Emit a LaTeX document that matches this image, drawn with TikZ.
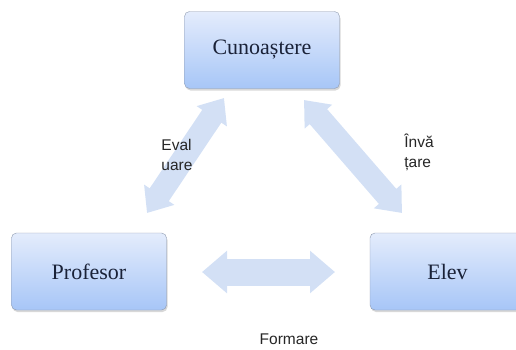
\documentclass[tikz,border=0pt]{standalone}
\usepackage{fontspec}
\setmainfont{Liberation Serif}
\newfontfamily\labfont{Liberation Sans}
\usepackage{xcolor}
\usetikzlibrary{arrows.meta,shadows}
\definecolor{boxtop}{HTML}{E4ECFC}
\definecolor{boxbot}{HTML}{A7C6F7}
\definecolor{boxline}{HTML}{8D99AE}
\definecolor{boxtext}{HTML}{1A2238}
\definecolor{arrcol}{HTML}{D3E0F5}

\begin{document}
\begin{tikzpicture}[x=1bp,y=-1bp,
  block/.style={rectangle,draw=boxline,top color=boxtop,bottom color=boxbot,
                minimum height=77bp,minimum width=155bp,rounded corners=5pt,
                drop shadow={shadow xshift=1bp,shadow yshift=-2bp,fill=black!30},
                text=boxtext,font=\fontsize{22bp}{25bp}\selectfont},
  dbl/.style={line width=23bp,arrcol,{Triangle[length=22bp,width=35bp]}-{Triangle[length=22bp,width=35bp]}},
  lab/.style={font=\labfont\fontsize{15.5bp}{20bp}\selectfont,align=left,text=black!85}]
\useasboundingbox (0,0) rectangle (516,349);
\clip (0,0) rectangle (516,349);
\node[block] (cun) at (262,50) {Cunoaștere};
\node[block] (prof) at (89,271.5) {Profesor};
\node[block] (elev) at (447.5,271.5) {Elev};
% arrow ends
\coordinate (ev1) at (147,213);
\coordinate (ev2) at (224,98);
\coordinate (in1) at (304,100);
\coordinate (in2) at (402,213);
\coordinate (fo1) at (202,272);
\coordinate (fo2) at (335,272);
\draw[dbl] (ev1) -- (ev2);
\draw[dbl] (in1) -- (in2);
\draw[dbl,line width=27bp,{Triangle[length=25bp,width=41bp]}-{Triangle[length=25bp,width=41bp]}] (fo1) -- (fo2);
\node[lab] (eval) at (177,155) {Eval\\uare};
\node[lab] (inv) at (419,152) {Învă\\țare};
\node[lab] (form) at (289,339) {Formare};
\end{tikzpicture}
\end{document}
